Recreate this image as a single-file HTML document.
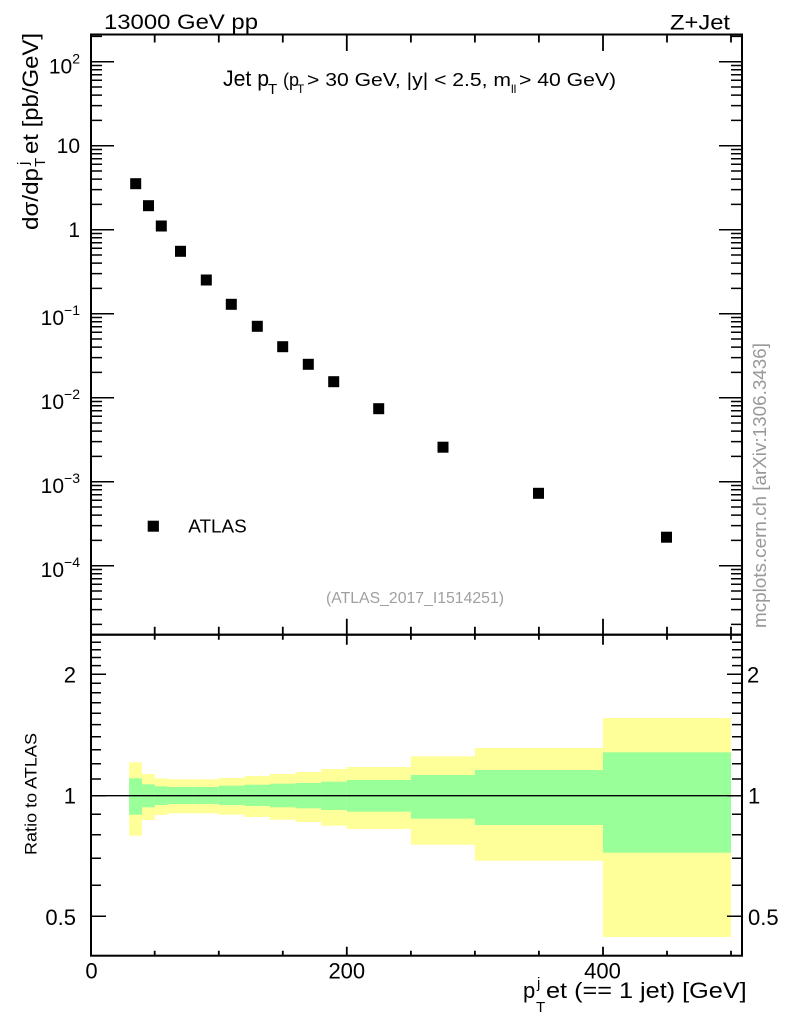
<!DOCTYPE html>
<html><head><meta charset="utf-8"><style>
html,body{margin:0;padding:0;background:#fff;}
svg{display:block;}
text{font-family:"Liberation Sans",Arial,sans-serif;}
</style></head><body>
<svg width="786" height="1024" viewBox="0 0 786 1024" xmlns="http://www.w3.org/2000/svg">
<rect x="0" y="0" width="786" height="1024" fill="#fff"/>

<!-- header texts -->
<text x="104" y="29" font-size="21" textLength="154" lengthAdjust="spacingAndGlyphs">13000 GeV pp</text>
<text x="670" y="29.3" font-size="21" textLength="60" lengthAdjust="spacingAndGlyphs">Z+Jet</text>

<!-- title -->
<text x="223" y="86" font-size="22" textLength="46" lengthAdjust="spacingAndGlyphs">Jet p</text>
<text x="268" y="94" font-size="15">T</text>
<text x="283" y="86" font-size="18">(p</text>
<text x="297" y="93" font-size="12">T</text>
<text x="307" y="86" font-size="18" textLength="204" lengthAdjust="spacingAndGlyphs">&gt; 30 GeV, |y| &lt; 2.5, m</text>
<text x="511" y="93" font-size="12">ll</text>
<text x="519" y="86" font-size="18" textLength="97" lengthAdjust="spacingAndGlyphs">&gt; 40 GeV)</text>

<!-- ratio bands -->
<g fill="#ffff99">
<rect x="129.1" y="762.3" width="12.9" height="73.4"/>
<rect x="142" y="774" width="12.8" height="46"/>
<rect x="154.8" y="778.3" width="12.8" height="36.7"/>
<rect x="167.6" y="779.3" width="25.6" height="34"/>
<rect x="193.2" y="779.3" width="25.6" height="34"/>
<rect x="218.8" y="778" width="25.6" height="36.7"/>
<rect x="244.4" y="776" width="25.6" height="41"/>
<rect x="270" y="774" width="25.6" height="45.7"/>
<rect x="295.6" y="772" width="25.6" height="50"/>
<rect x="321.2" y="769" width="25.6" height="56.7"/>
<rect x="346.8" y="767" width="64.1" height="62"/>
<rect x="410.9" y="756.3" width="64" height="88.4"/>
<rect x="474.9" y="748" width="128.1" height="112.7"/>
<rect x="603" y="718" width="128" height="219"/>
</g>
<g fill="#99ff99">
<rect x="129.1" y="778.3" width="12.9" height="36.4"/>
<rect x="142" y="784.3" width="12.8" height="23"/>
<rect x="154.8" y="786.3" width="12.8" height="18.7"/>
<rect x="167.6" y="787" width="25.6" height="17"/>
<rect x="193.2" y="787" width="25.6" height="17"/>
<rect x="218.8" y="785.7" width="25.6" height="19.3"/>
<rect x="244.4" y="784.7" width="25.6" height="21.3"/>
<rect x="270" y="783.7" width="25.6" height="23.6"/>
<rect x="295.6" y="783" width="25.6" height="25.3"/>
<rect x="321.2" y="781.7" width="25.6" height="28.3"/>
<rect x="346.8" y="780" width="64.1" height="31.7"/>
<rect x="410.9" y="775" width="64" height="43.7"/>
<rect x="474.9" y="770" width="128.1" height="55"/>
<rect x="603" y="752.3" width="128" height="100.4"/>
</g>
<line x1="91" y1="795.7" x2="742" y2="795.7" stroke="#000" stroke-width="1.4"/>

<!-- frames -->
<rect x="91" y="34.5" width="651" height="600.2" fill="none" stroke="#000" stroke-width="2"/>
<rect x="91" y="634.7" width="651" height="321" fill="none" stroke="#000" stroke-width="2"/>

<!-- main y ticks -->
<g stroke="#000" stroke-width="1.5" fill="none">
<path d="M91 61.7h23M91 145.7h23M91 229.7h23M91 313.7h23M91 397.7h23M91 481.7h23M91 565.7h23"/>
<path d="M742 61.7h-23M742 145.7h-23M742 229.7h-23M742 313.7h-23M742 397.7h-23M742 481.7h-23M742 565.7h-23"/>
<path d="M91 36.4h11
M91 120.4h11M91 105.6h11M91 95.1h11M91 87h11M91 80.3h11M91 74.7h11M91 69.8h11M91 65.5h11
M91 204.4h11M91 189.6h11M91 179.1h11M91 171h11M91 164.3h11M91 158.7h11M91 153.8h11M91 149.5h11
M91 288.4h11M91 273.6h11M91 263.1h11M91 255h11M91 248.3h11M91 242.7h11M91 237.8h11M91 233.5h11
M91 372.4h11M91 357.6h11M91 347.1h11M91 339h11M91 332.3h11M91 326.7h11M91 321.8h11M91 317.5h11
M91 456.4h11M91 441.6h11M91 431.1h11M91 423h11M91 416.3h11M91 410.7h11M91 405.8h11M91 401.5h11
M91 540.4h11M91 525.6h11M91 515.1h11M91 507h11M91 500.3h11M91 494.7h11M91 489.8h11M91 485.5h11
M91 624.4h11M91 609.6h11M91 599.1h11M91 591h11M91 584.3h11M91 578.7h11M91 573.8h11M91 569.5h11"/>
<path d="M742 36.4h-11
M742 120.4h-11M742 105.6h-11M742 95.1h-11M742 87h-11M742 80.3h-11M742 74.7h-11M742 69.8h-11M742 65.5h-11
M742 204.4h-11M742 189.6h-11M742 179.1h-11M742 171h-11M742 164.3h-11M742 158.7h-11M742 153.8h-11M742 149.5h-11
M742 288.4h-11M742 273.6h-11M742 263.1h-11M742 255h-11M742 248.3h-11M742 242.7h-11M742 237.8h-11M742 233.5h-11
M742 372.4h-11M742 357.6h-11M742 347.1h-11M742 339h-11M742 332.3h-11M742 326.7h-11M742 321.8h-11M742 317.5h-11
M742 456.4h-11M742 441.6h-11M742 431.1h-11M742 423h-11M742 416.3h-11M742 410.7h-11M742 405.8h-11M742 401.5h-11
M742 540.4h-11M742 525.6h-11M742 515.1h-11M742 507h-11M742 500.3h-11M742 494.7h-11M742 489.8h-11M742 485.5h-11
M742 624.4h-11M742 609.6h-11M742 599.1h-11M742 591h-11M742 584.3h-11M742 578.7h-11M742 573.8h-11M742 569.5h-11"/>
</g>

<!-- x ticks -->
<g stroke="#000" stroke-width="1.8" fill="none">
<path d="M154.7 34.5v8M218.8 34.5v8M282.8 34.5v8M346.8 34.5v16.5M410.9 34.5v8M474.9 34.5v8M538.9 34.5v8M603 34.5v16.5M667 34.5v8M731 34.5v8"/>
<path d="M154.7 634.7v-8M218.8 634.7v-8M282.8 634.7v-8M346.8 634.7v-16M410.9 634.7v-8M474.9 634.7v-8M538.9 634.7v-8M603 634.7v-16M667 634.7v-8M731 634.7v-8"/>
<path d="M154.7 634.7v5M218.8 634.7v5M282.8 634.7v5M346.8 634.7v10M410.9 634.7v5M474.9 634.7v5M538.9 634.7v5M603 634.7v10M667 634.7v5M731 634.7v5"/>
<path d="M154.7 955.7v-5M218.8 955.7v-5M282.8 955.7v-5M346.8 955.7v-9M410.9 955.7v-5M474.9 955.7v-5M538.9 955.7v-5M603 955.7v-9M667 955.7v-5M731 955.7v-5"/>
</g>

<!-- ratio y ticks -->
<g stroke="#000" stroke-width="1.5" fill="none">
<path d="M91 916.2h15M91 795.7h15M91 674.2h15M742 916.2h-15M742 795.7h-15M742 674.2h-15"/>
<path d="M91 885.2h10M91 858.2h10M91 834.8h10M91 814.2h10M91 779h10M91 763.7h10M91 749.7h10M91 736.7h10M91 724.6h10M91 713.3h10M91 702.7h10M91 692.7h10M91 683.2h10M91 665.6h10M91 657.5h10M91 649.7h10M91 642.2h10"/>
<path d="M742 885.2h-10M742 858.2h-10M742 834.8h-10M742 814.2h-10M742 779h-10M742 763.7h-10M742 749.7h-10M742 736.7h-10M742 724.6h-10M742 713.3h-10M742 702.7h-10M742 692.7h-10M742 683.2h-10M742 665.6h-10M742 657.5h-10M742 649.7h-10M742 642.2h-10"/>
</g>

<!-- main y labels -->
<g font-size="21" text-anchor="end">
<text x="80" y="73.3">10<tspan font-size="14" dy="-10">2</tspan></text>
<text x="80" y="153.2">10</text>
<text x="80" y="237.2">1</text>
<text x="80" y="325.2">10<tspan font-size="14" dy="-10">−1</tspan></text>
<text x="80" y="409.2">10<tspan font-size="14" dy="-10">−2</tspan></text>
<text x="80" y="493.2">10<tspan font-size="14" dy="-10">−3</tspan></text>
<text x="80" y="577.2">10<tspan font-size="14" dy="-10">−4</tspan></text>
</g>

<!-- ratio y labels -->
<g font-size="22">
<text x="76" y="682.7" text-anchor="end">2</text>
<text x="76" y="803.7" text-anchor="end">1</text>
<text x="76" y="925" text-anchor="end">0.5</text>
<text x="747" y="682.7">2</text>
<text x="748" y="803.7">1</text>
<text x="748" y="925">0.5</text>
</g>

<!-- x labels -->
<g font-size="22" text-anchor="middle">
<text x="91.5" y="978.5">0</text>
<text x="346.8" y="978.5">200</text>
<text x="602.5" y="978.5">400</text>
</g>

<!-- x title -->
<text x="523" y="998" font-size="22">p</text>
<text x="536" y="1012" font-size="15">T</text>
<text x="537" y="988" font-size="15">j</text>
<text x="546" y="998" font-size="22" textLength="200.7" lengthAdjust="spacingAndGlyphs">et (== 1 jet) [GeV]</text>

<!-- y title -->
<g transform="translate(38,230) rotate(-90)">
<text x="0" y="0" font-size="22" textLength="62" lengthAdjust="spacingAndGlyphs">dσ/dp</text>
<text x="63" y="7" font-size="15">T</text>
<text x="65" y="-10" font-size="15">j</text>
<text x="76" y="0" font-size="22" textLength="121" lengthAdjust="spacingAndGlyphs">et [pb/GeV]</text>
</g>

<!-- ratio title -->
<text transform="translate(36.5,855) rotate(-90)" font-size="17" textLength="122" lengthAdjust="spacingAndGlyphs">Ratio to ATLAS</text>

<!-- side label -->
<text transform="translate(766,628) rotate(-90)" font-size="18" fill="#999" textLength="285" lengthAdjust="spacingAndGlyphs">mcplots.cern.ch [arXiv:1306.3436]</text>

<!-- analysis id -->
<text x="326" y="603" font-size="16" fill="#a0a0a0" textLength="178" lengthAdjust="spacingAndGlyphs">(ATLAS_2017_I1514251)</text>

<!-- legend -->
<rect x="147.7" y="520.7" width="11.2" height="11" fill="#000"/>
<text x="188.3" y="532.3" font-size="18.5" textLength="58.4" lengthAdjust="spacingAndGlyphs">ATLAS</text>

<!-- data points -->
<g fill="#000">
<rect x="130.2" y="178.2" width="11" height="11"/>
<rect x="143" y="200.2" width="11" height="11"/>
<rect x="155.8" y="220.5" width="11" height="11"/>
<rect x="175" y="245.8" width="11" height="11"/>
<rect x="200.8" y="274.5" width="11" height="11"/>
<rect x="225.8" y="298.8" width="11" height="11"/>
<rect x="251.8" y="320.8" width="11" height="11"/>
<rect x="277.2" y="341.2" width="11" height="11"/>
<rect x="302.8" y="358.8" width="11" height="11"/>
<rect x="328.2" y="376.2" width="11" height="11"/>
<rect x="373.2" y="403.2" width="11" height="11"/>
<rect x="437.5" y="441.7" width="11" height="11"/>
<rect x="533" y="487.8" width="11" height="11"/>
<rect x="661" y="531.7" width="11" height="11"/>
</g>
</svg>
</body></html>
